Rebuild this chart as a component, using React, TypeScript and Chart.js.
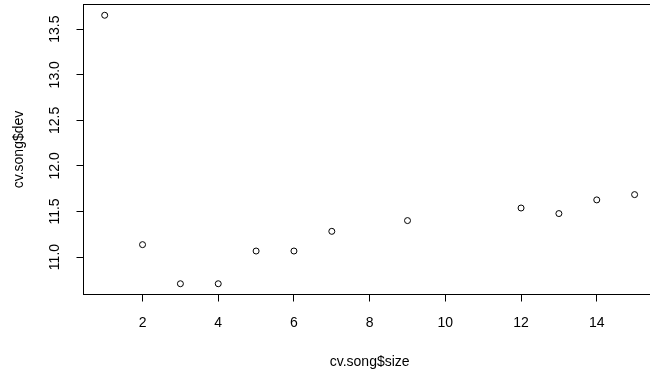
import React, { useEffect, useRef } from "react";
import { Chart, registerables } from "chart.js";

Chart.register(...registerables);

const sizeValues = [1, 2, 3, 4, 5, 6, 7, 9, 12, 13, 14, 15];
const devValues = [13.653, 11.136, 10.707, 10.707, 11.066, 11.066, 11.282, 11.4, 11.538, 11.477, 11.627, 11.685];
const xTicks = [2, 4, 6, 8, 10, 12, 14];
const yTicks = [11.0, 11.5, 12.0, 12.5, 13.0, 13.5];
const xLabel = "cv.song$size";
const yLabel = "cv.song$dev";

const FONT = "'Liberation Sans', Arial, sans-serif";
const FS = 14;
const FRAME_OVERHANG = 5.8; // the plot frame extends past the right edge of the picture

const boxPlugin = {
  id: "boxPlugin",
  afterLayout(chart: any) {
    const s = chart.scales.x;
    s.right = chart.width + FRAME_OVERHANG;
    s.width = s.right - s.left;
    s.configure();
    chart.chartArea.right = s.right;
    chart.chartArea.width = s.right - chart.chartArea.left;
  },
  afterDraw(chart: any) {
    const { ctx, chartArea } = chart;
    ctx.save();
    ctx.strokeStyle = "#000";
    ctx.lineWidth = 1;
    ctx.strokeRect(chartArea.left, chartArea.top, chartArea.right - chartArea.left, chartArea.bottom - chartArea.top);
    ctx.restore();
  },
};

export default function App() {
  const ref = useRef<HTMLCanvasElement>(null);
  useEffect(() => {
    if (!ref.current) return;
    const chart = new Chart(ref.current, {
      type: "scatter",
      data: {
        datasets: [
          {
            data: sizeValues.map((x, i) => ({ x, y: devValues[i] })),
            pointStyle: "circle",
            pointRadius: 3,
            pointBorderWidth: 1,
            pointBorderColor: "#000",
            pointBackgroundColor: "rgba(0,0,0,0)",
            pointHoverRadius: 3,
          },
        ],
      },
      plugins: [boxPlugin],
      options: {
        animation: false,
        responsive: false,
        devicePixelRatio: 1,
        layout: { padding: { left: 0, top: 4.5, right: 0, bottom: 0 } },
        plugins: { legend: { display: false }, tooltip: { enabled: false } },
        scales: {
          x: {
            type: "linear",
            min: 0.44,
            max: 15.56,
            afterBuildTicks: (scale: any) => {
              scale.ticks = xTicks.map((v) => ({ value: v }));
            },
            afterFit: (scale: any) => {
              scale.height = 79.5;
              scale.paddingLeft = 0;
              scale.paddingRight = 0;
            },
            ticks: {
              color: "#000",
              font: { family: FONT, size: FS },
              padding: 13.5,
              maxRotation: 0,
              minRotation: 0,
              autoSkip: false,
              callback: (v: any) => String(v),
            },
            grid: { display: true, drawOnChartArea: false, drawTicks: true, tickLength: 7, color: "#000", lineWidth: 1 },
            border: { display: false },
            title: {
              display: true,
              text: xLabel,
              color: "#000",
              font: { family: FONT, size: FS },
              padding: { top: 0, bottom: 3 },
            },
          },
          y: {
            type: "linear",
            min: 10.589,
            max: 13.771,
            afterBuildTicks: (scale: any) => {
              scale.ticks = yTicks.map((v) => ({ value: v }));
            },
            afterFit: (scale: any) => {
              scale.width = 83.5;
              scale.paddingTop = 0;
              scale.paddingBottom = 0;
            },
            ticks: {
              color: "#000",
              font: { family: FONT, size: FS },
              padding: 8,
              minRotation: 90,
              maxRotation: 90,
              crossAlign: "center",
              autoSkip: false,
              callback: (v: any) => Number(v).toFixed(1),
            },
            grid: { display: true, drawOnChartArea: false, drawTicks: true, tickLength: 7, color: "#000", lineWidth: 1 },
            border: { display: false },
            title: {
              display: true,
              text: yLabel,
              color: "#000",
              font: { family: FONT, size: FS },
              padding: { top: 10.6, bottom: 0 },
            },
          },
        },
      },
    });
    return () => chart.destroy();
  }, []);
  return (
    <div style={{ position: "fixed", left: 0, top: 0, width: 650, height: 374, overflow: "hidden", background: "#fff" }}>
      <canvas ref={ref} width={650} height={374} style={{ display: "block", width: 650, height: 374 }} />
    </div>
  );
}
